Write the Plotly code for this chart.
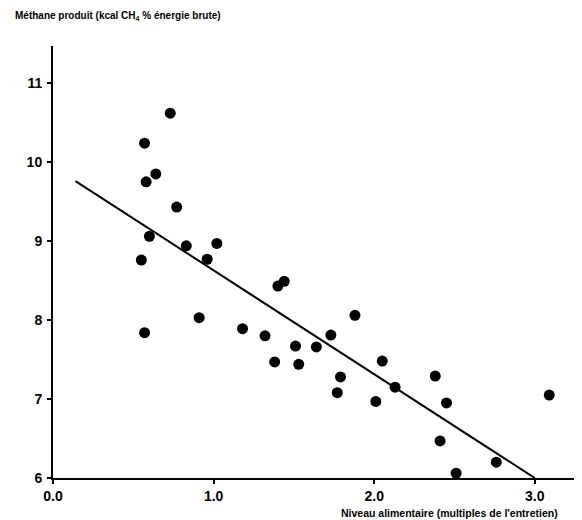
import plotly.graph_objects as go

# points
niveau = [0.73, 0.57, 0.64, 0.58, 0.77, 0.60, 0.55, 0.83, 1.02, 0.96,
          0.57, 0.91, 1.40, 1.44, 1.18, 1.32, 1.51, 1.64, 1.73, 1.38,
          1.53, 1.88, 2.05, 1.79, 1.77, 2.01, 2.13, 2.38, 2.45, 2.41,
          2.51, 2.76, 3.09]
methane = [10.62, 10.24, 9.85, 9.75, 9.43, 9.06, 8.76, 8.94, 8.97, 8.77,
           7.84, 8.03, 8.43, 8.49, 7.89, 7.80, 7.67, 7.66, 7.81, 7.47,
           7.44, 8.06, 7.48, 7.28, 7.08, 6.97, 7.15, 7.29, 6.95, 6.47,
           6.06, 6.20, 7.05]

# regression line endpoints
ligne_x = [0.14, 3.0]
ligne_y = [9.76, 6.0]

x_ticks = [0, 1, 2, 3]
x_tick_labels = ["0.0", "1.0", "2.0", "3.0"]
y_ticks = [6, 7, 8, 9, 10, 11]

FONT = "Liberation Sans, Arial, sans-serif"

fig = go.Figure()
fig.add_trace(go.Scatter(
    x=ligne_x, y=ligne_y, mode="lines",
    line=dict(color="black", width=2), showlegend=False,
))
fig.add_trace(go.Scatter(
    x=niveau, y=methane, mode="markers",
    marker=dict(color="black", size=11), showlegend=False,
))

axis_common = dict(
    showgrid=False, zeroline=False, showline=True, linecolor="black",
    linewidth=2, ticks="outside", tickcolor="black", tickwidth=2, ticklen=4,
    tickfont=dict(family=FONT, size=14, color="black", weight="bold"),
)
fig.update_xaxes(range=[0, 3.3], tickvals=x_ticks, ticktext=x_tick_labels,
                 ticklabelstandoff=0, **axis_common)
fig.update_yaxes(range=[6, 11.47], tickvals=y_ticks, ticklabelstandoff=2,
                 **axis_common)

fig.add_annotation(
    text="Méthane produit (kcal CH<sub>4</sub> % énergie brute)",
    xref="paper", yref="paper", x=-0.075, y=1.0, yshift=22,
    xanchor="left", yanchor="bottom", showarrow=False,
    font=dict(family=FONT, size=10, color="black", weight="bold"),
)
# left-anchored: bold text is measured narrower than drawn
fig.add_annotation(
    text="Niveau alimentaire (multiples de l'entretien)",
    xref="paper", yref="paper", x=0.54, y=0, yshift=-27,
    xanchor="left", yanchor="top", showarrow=False,
    font=dict(family=FONT, size=10.5, color="black", weight="bold"),
)

fig.update_layout(
    width=582, height=520,
    margin=dict(l=45, r=7, t=38, b=50),
    paper_bgcolor="white", plot_bgcolor="white",
)

fig.write_html("out.html")
